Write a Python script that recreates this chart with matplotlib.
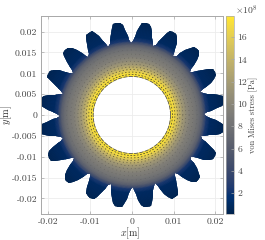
import numpy as np
import matplotlib
matplotlib.use('Agg')
import matplotlib.pyplot as plt
from matplotlib.patches import Polygon

plt.rcParams['font.family'] = ['cmr10', 'DejaVu Serif']
plt.rcParams['mathtext.fontset'] = 'cm'
plt.rcParams['axes.unicode_minus'] = False
plt.rcParams['axes.formatter.use_mathtext'] = True

#%% Data
x_ticks   = [-0.02, -0.01, 0, 0.01, 0.02]
y_ticks   = [-0.02, -0.015, -0.01, -0.005, 0, 0.005, 0.01, 0.015, 0.02]
cb_ticks  = [2, 4, 6, 8, 10, 12, 14, 16]
vmin, vmax = 0.12, 17.9

# radial stress profile [1e8 Pa]
radii     = [0.0093, 0.0100, 0.0106, 0.0112, 0.0120, 0.0130, 0.0140, 0.0155, 0.0164, 0.0171, 0.0178, 0.0187, 0.0225]
stress    = [17.8, 17.2, 15.8, 14.0, 12.0, 10.4, 9.4, 8.2, 7.0, 5.2, 2.4, 0.9, 0.3]

# one tooth outline: angle from tooth centre [deg], radius [m]
tooth_ang = [-8.15, -7.0, -6.0, -4.6, -3.2, -1.5, 0.5, 2.6, 3.9, 5.4, 6.8, 8.0, 9.85]
tooth_rad = [0.0173, 0.0180, 0.0190, 0.0204, 0.0216, 0.0222, 0.0223, 0.0222, 0.0214, 0.0201, 0.0188, 0.0178, 0.0173]
n_teeth   = 20
first_tooth = 9.0

# dashed rings seen inside the gear
ring_radii = [0.0097, 0.0103, 0.0109, 0.0115, 0.0122, 0.0129, 0.0137, 0.0146, 0.0156]
ring_alpha = [0.9, 0.85, 0.8, 0.7, 0.55, 0.45, 0.38, 0.3, 0.22]
ring_dash  = [(2.5, 2.2), (2.0, 3.0), (1.8, 3.4), (1.5, 3.8), (1.4, 4.0), (1.2, 4.4), (1.2, 4.6), (1.0, 5.0), (1.0, 5.4)]
hole_r     = 0.00925

#%% Figure
W, H = 265, 240
fig = plt.figure(figsize=(W/100, H/100), dpi=100)
ax  = fig.add_axes([40.7/W, 1 - 214/H, (223 - 40.7)/W, (214 - 16)/H])
cax = fig.add_axes([226.3/W, 1 - 214/H, (234 - 226.3)/W, (214 - 16)/H])

#%% Gear outline
px, py = [], []
for k in range(n_teeth):
    a = np.deg2rad(first_tooth + 360/n_teeth*k + np.array(tooth_ang))
    px.extend(np.array(tooth_rad)*np.cos(a))
    py.extend(np.array(tooth_rad)*np.sin(a))
gear = Polygon(np.column_stack([px, py]), closed=True, transform=ax.transData, fc='none', ec='none')
ax.add_patch(gear)

#%% Stress field
th = np.linspace(0, 2*np.pi, 361)
R, T = np.meshgrid(radii, th)
S = np.tile(stress, (len(th), 1))
mesh = ax.pcolormesh(R*np.cos(T), R*np.sin(T), S, cmap='cividis', vmin=vmin, vmax=vmax, shading='gouraud')
mesh.set_clip_path(gear)

for r, al, d in zip(ring_radii, ring_alpha, ring_dash):
    ax.plot(r*np.cos(th), r*np.sin(th), color='#2a2a2a', lw=0.5, alpha=al, ls=(0, d))
ax.plot(hole_r*np.cos(th), hole_r*np.sin(th), color='#555560', lw=0.6, ls=(0, (5, 1.5)))

#%% Axes
ax.set_xlim(-0.0218, 0.0218)
ax.set_ylim(-0.02375, 0.02375)
ax.set_xticks(x_ticks)
ax.set_xticklabels(['-0.02', '-0.01', '0', '0.01', '0.02'])
ax.set_yticks(y_ticks)
ax.set_yticklabels(['-0.02', '-0.015', '-0.01', '-0.005', '0', '0.005', '0.01', '0.015', '0.02'])
ax.grid(True, color='#ececec', lw=0.6)
ax.set_axisbelow(True)
ax.tick_params(direction='in', top=True, right=True, length=2, width=0.5, color='#a8a8a8',
               labelsize=7, labelcolor='#444444', pad=2.5)
for s in ax.spines.values():
    s.set_color('#a8a8a8')
    s.set_linewidth(0.7)
ax.set_xlabel('$x$[m]', fontsize=7.2, color='#333333')
ax.set_ylabel('$y$[m]', fontsize=7.5, color='#333333')
ax.xaxis.set_label_coords(0.49, -0.056)
ax.yaxis.set_label_coords(-0.145, 0.5)

#%% Colorbar
sm = plt.cm.ScalarMappable(norm=plt.Normalize(vmin, vmax), cmap='cividis')
cb = fig.colorbar(sm, cax=cax)
cb.set_ticks(cb_ticks)
cb.set_ticklabels([str(v) for v in cb_ticks])
cb.ax.tick_params(direction='in', length=2, width=0.5, color='#a8a8a8', labelsize=7, labelcolor='#444444', pad=2.5)
cb.outline.set_edgecolor('#a8a8a8')
cb.outline.set_linewidth(0.5)
cb.set_label('von Mises stress [Pa]', fontsize=6, color='#444444', labelpad=1)
fig.text(235/W, 1 - 10/H, r'$\times 10^8$', fontsize=7, color='#444444', va='center')

fig.savefig('out.png', dpi=100)
